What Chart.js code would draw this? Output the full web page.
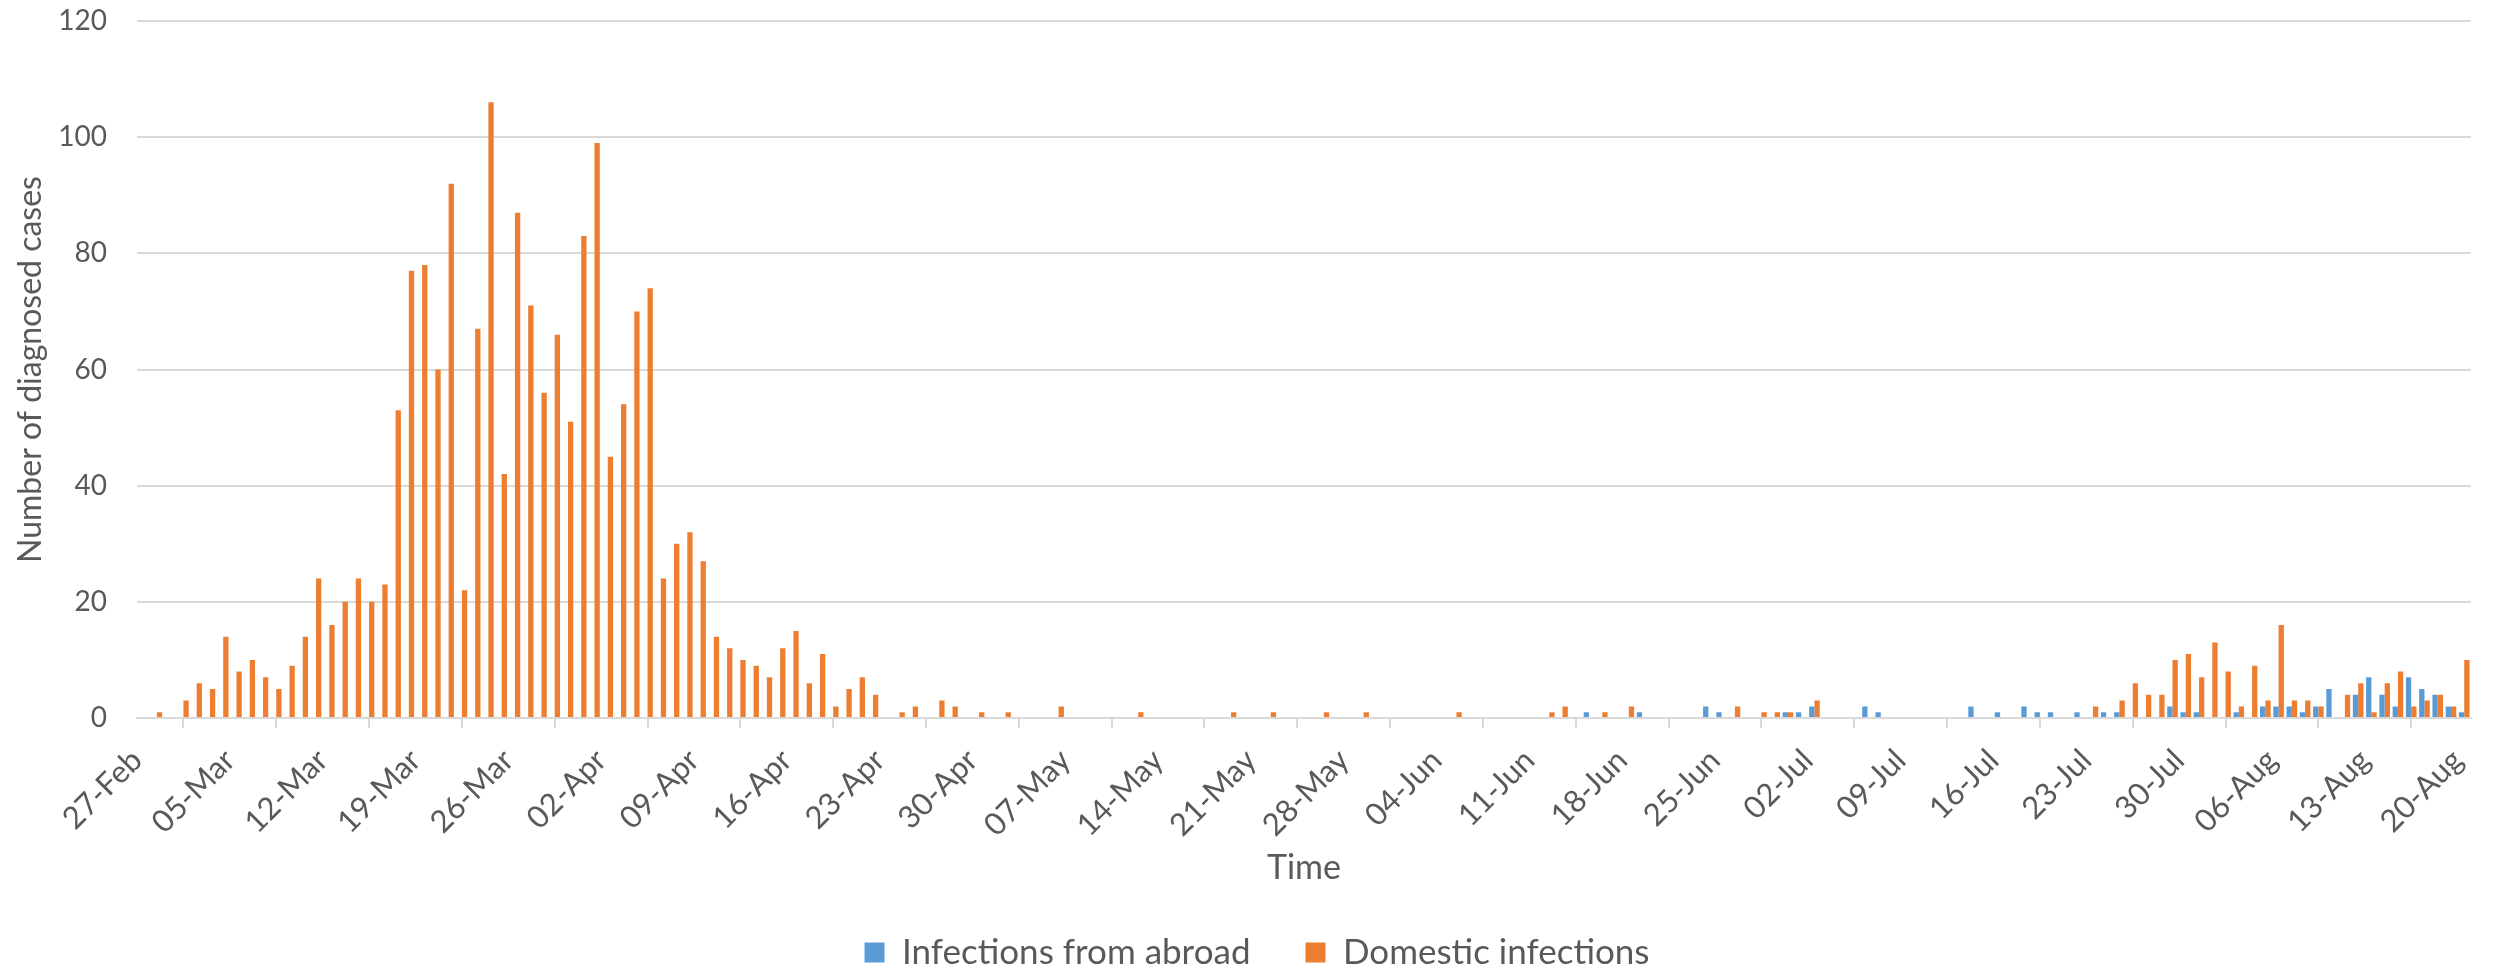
<!DOCTYPE html>
<html>
<head>
<meta charset="utf-8">
<script src="https://cdn.jsdelivr.net/npm/chart.js@4/dist/chart.umd.min.js"></script>
<style>
  html, body { margin: 0; padding: 0; background: #fff; }
  #wrap { width: 2498px; height: 970px; }
</style>
</head>
<body>
<div id="wrap"><canvas id="chart" width="2498" height="970"></canvas></div>
<script>
// one bar slot per day, 27-Feb .. 20-Aug 2020 (176 days)
const dayCount = 176;
// labels shown on the time axis, one every 7 days
const tickLabels = ['27-Feb', '05-Mar', '12-Mar', '19-Mar', '26-Mar', '02-Apr', '09-Apr', '16-Apr', '23-Apr',
  '30-Apr', '07-May', '14-May', '21-May', '28-May', '04-Jun', '11-Jun', '18-Jun', '25-Jun', '02-Jul',
  '09-Jul', '16-Jul', '23-Jul', '30-Jul', '06-Aug', '13-Aug', '20-Aug'];

// Infections from abroad (blue)
const abroad = [
  0, 0, 0, 0, 0, 0, 0, 0, 0, 0, 0, 0, 0, 0, 0, 0, 0, 0, 0, 0,
  0, 0, 0, 0, 0, 0, 0, 0, 0, 0, 0, 0, 0, 0, 0, 0, 0, 0, 0, 0,
  0, 0, 0, 0, 0, 0, 0, 0, 0, 0, 0, 0, 0, 0, 0, 0, 0, 0, 0, 0,
  0, 0, 0, 0, 0, 0, 0, 0, 0, 0, 0, 0, 0, 0, 0, 0, 0, 0, 0, 0,
  0, 0, 0, 0, 0, 0, 0, 0, 0, 0, 0, 0, 0, 0, 0, 0, 0, 0, 0, 0,
  0, 0, 0, 0, 0, 0, 0, 0, 0, 1, 0, 0, 0, 1, 0, 0, 0, 0, 2, 1,
  0, 0, 0, 0, 1, 1, 2, 0, 0, 0, 2, 1, 0, 0, 0, 0, 0, 0, 2, 0,
  1, 0, 2, 1, 1, 0, 1, 0, 1, 1, 0, 0, 0, 2, 1, 1, 0, 0, 1, 0,
  2, 2, 2, 1, 2, 5, 0, 4, 7, 4, 2, 7, 5, 4, 2, 1
];

// Domestic infections (orange)
const domestic = [
  0, 1, 0, 3, 6, 5, 14, 8, 10, 7, 5, 9, 14, 24, 16, 20, 24, 20, 23, 53,
  77, 78, 60, 92, 22, 67, 106, 42, 87, 71, 56, 66, 51, 83, 99, 45, 54, 70, 74, 24,
  30, 32, 27, 14, 12, 10, 9, 7, 12, 15, 6, 11, 2, 5, 7, 4, 0, 1, 2, 0,
  3, 2, 0, 1, 0, 1, 0, 0, 0, 2, 0, 0, 0, 0, 0, 1, 0, 0, 0, 0,
  0, 0, 1, 0, 0, 1, 0, 0, 0, 1, 0, 0, 1, 0, 0, 0, 0, 0, 0, 1,
  0, 0, 0, 0, 0, 0, 1, 2, 0, 0, 1, 0, 2, 0, 0, 0, 0, 0, 0, 0,
  2, 0, 1, 1, 1, 0, 3, 0, 0, 0, 0, 0, 0, 0, 0, 0, 0, 0, 0, 0,
  0, 0, 0, 0, 0, 0, 0, 2, 0, 3, 6, 4, 4, 10, 11, 7, 13, 8, 2, 9,
  3, 16, 3, 3, 2, 0, 4, 6, 1, 6, 8, 2, 3, 4, 2, 10
];

const textColor = '#595959';
const gridColor = '#D9D9D9';
const fontFamily = 'Lato, "Liberation Sans", sans-serif';

// bars sit in the middle of each day slot, ticks on the slot boundaries
const toPoints = arr => arr.map((v, i) => ({ x: i + 0.5, y: v }));

// the legend in the original sits a little right of the canvas centre
const legendShift = {
  id: 'legendShift',
  afterLayout(chart) {
    if (chart.legend) {
      chart.legend.left += 16;
      chart.legend.right += 16;
    }
  }
};

const ctx = document.getElementById('chart').getContext('2d');
new Chart(ctx, {
  type: 'bar',
  data: {
    datasets: [
      { label: 'Infections from abroad', data: toPoints(abroad), backgroundColor: '#5B9BD5', borderWidth: 0 },
      { label: 'Domestic infections', data: toPoints(domestic), backgroundColor: '#ED7D31', borderWidth: 0 }
    ]
  },
  plugins: [legendShift],
  options: {
    responsive: false,
    animation: false,
    categoryPercentage: 0.8,
    barPercentage: 1.0,
    layout: { padding: { left: 0, right: 16, top: 21, bottom: -10 } },
    plugins: {
      tooltip: { enabled: false },
      legend: {
        position: 'bottom',
        labels: {
          color: textColor,
          font: { family: fontFamily, size: 35 },
          boxWidth: 20,
          boxHeight: 20,
          padding: 55
        }
      }
    },
    scales: {
      x: {
        type: 'linear',
        min: 0,
        max: dayCount,
        offset: false,
        afterBuildTicks: scale => {
          scale.ticks = tickLabels.map((_, i) => ({ value: i * 7 }));
        },
        afterFit: scale => { scale.height = 162; },
        ticks: {
          autoSkip: false,
          maxRotation: 45,
          minRotation: 45,
          padding: 14,
          color: textColor,
          font: { family: fontFamily, size: 31 },
          callback: v => tickLabels[Math.round(v / 7)]
        },
        grid: { drawOnChartArea: false, drawTicks: true, tickLength: 10, color: gridColor, lineWidth: 2 },
        border: { color: gridColor, width: 2 },
        title: {
          display: true,
          text: 'Time',
          color: textColor,
          font: { family: fontFamily, size: 34 },
          padding: { top: 0, bottom: -8 }
        }
      },
      y: {
        min: 0,
        max: 120,
        afterFit: scale => { scale.width = 137; },
        ticks: {
          stepSize: 20,
          padding: 0,
          color: textColor,
          font: { family: fontFamily, size: 28 }
        },
        // invisible tick marks keep the labels away from the plot without padding the top
        grid: { color: gridColor, lineWidth: 2, drawTicks: true, tickLength: 30, tickColor: 'rgba(0,0,0,0)' },
        border: { display: false },
        title: {
          display: true,
          text: 'Number of diagnosed cases',
          color: textColor,
          font: { family: fontFamily, size: 32 },
          padding: { top: 11, bottom: 0 }
        }
      }
    }
  }
});
</script>
</body>
</html>
